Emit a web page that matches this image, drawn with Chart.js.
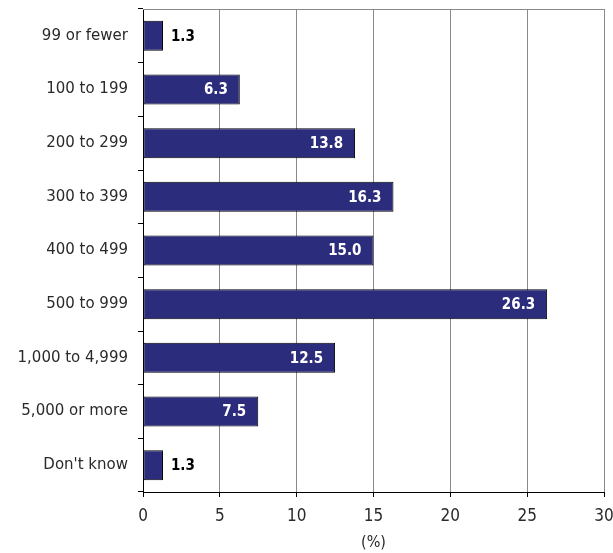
<!DOCTYPE html>
<html>
<head>
<meta charset="utf-8">
<script src="https://cdn.jsdelivr.net/npm/chart.js@4"></script>
<style>
  html, body { margin: 0; padding: 0; background: #fff; }
  #wrap { width: 613px; height: 553px; }
</style>
</head>
<body>
<div id="wrap"><canvas id="c" width="613" height="553"></canvas></div>
<script>
// Number of employees (size bands) and share of respondents, in percent
const categories = ['99 or fewer', '100 to 199', '200 to 299', '300 to 399', '400 to 499',
                    '500 to 999', '1,000 to 4,999', '5,000 or more', "Don't know"];
const shares = [1.3, 6.3, 13.8, 16.3, 15.0, 26.3, 12.5, 7.5, 1.3];
const xTicks = [0, 5, 10, 15, 20, 25, 30];
const xTitle = '(%)';

const TEXT = '#2a2a2a';

// Value labels: white inside long bars, black just past short ones
const valueLabels = {
  id: 'valueLabels',
  afterDatasetsDraw(chart) {
    const ctx = chart.ctx;
    const meta = chart.getDatasetMeta(0);
    ctx.save();
    ctx.font = 'bold 15px "DejaVu Sans Condensed", "Liberation Sans", Arial, sans-serif';
    ctx.textBaseline = 'middle';
    meta.data.forEach((bar, i) => {
      const v = shares[i];
      const txt = v.toFixed(1);
      if (v >= 5) {
        ctx.fillStyle = '#ffffff';
        ctx.textAlign = 'right';
        ctx.fillText(txt, bar.x - 12, bar.y + 1);
      } else {
        ctx.fillStyle = '#000000';
        ctx.textAlign = 'left';
        ctx.fillText(txt, bar.x + 8, bar.y + 1);
      }
    });
    ctx.restore();
  }
};

// Grey frame line along the top of the plot area
const topFrame = {
  id: 'topFrame',
  beforeDatasetsDraw(chart) {
    const { ctx, chartArea } = chart;
    ctx.save();
    ctx.strokeStyle = '#8a8a8a';
    ctx.lineWidth = 1;
    ctx.beginPath();
    ctx.moveTo(chartArea.left, chartArea.top + 0.5);
    ctx.lineTo(chartArea.right, chartArea.top + 0.5);
    ctx.stroke();
    ctx.restore();
  }
};

// Fixed axis boxes, no automatic label overflow padding
function fixBox(size) {
  return (scale) => {
    if (scale.isHorizontal()) scale.height = size; else scale.width = size;
    scale.paddingTop = 0;
    scale.paddingBottom = 0;
    scale.paddingLeft = 0;
    scale.paddingRight = 0;
  };
}

new Chart(document.getElementById('c'), {
  type: 'bar',
  data: {
    labels: categories,
    datasets: [{
      data: shares,
      backgroundColor: '#2c2c7c',
      borderColor: '#000000',
      borderWidth: 1,
      borderSkipped: false,
      barPercentage: 0.56,
      categoryPercentage: 1.0
    }]
  },
  options: {
    indexAxis: 'y',
    responsive: false,
    animation: false,
    layout: { padding: { top: 9, right: 9, left: 0, bottom: 0 } },
    plugins: {
      legend: { display: false },
      tooltip: { enabled: false }
    },
    scales: {
      x: {
        min: 0,
        max: 30,
        afterBuildTicks(scale) { scale.ticks = xTicks.map(v => ({ value: v })); },
        afterFit: fixBox(61),
        grid: {
          color: (c) => (c.tick && c.tick.value === 0) ? 'rgba(0,0,0,0)' : '#8a8a8a',
          tickColor: '#000000',
          tickLength: 5,
          lineWidth: 1
        },
        border: { color: '#000000', width: 1 },
        ticks: {
          color: TEXT,
          padding: 9,
          font: { family: '"Liberation Sans Narrow", "DejaVu Sans Condensed", Arial, sans-serif', size: 17 }
        },
        title: {
          display: true,
          text: xTitle,
          color: TEXT,
          padding: { top: 0, bottom: 1 },
          font: { family: '"Liberation Sans Narrow", "DejaVu Sans Condensed", Arial, sans-serif', size: 16 }
        }
      },
      y: {
        afterFit: fixBox(143),
        grid: {
          offset: true,
          drawOnChartArea: false,
          color: '#000000',
          tickLength: 5
        },
        border: { color: '#000000', width: 1 },
        ticks: {
          color: TEXT,
          padding: 10,
          font: { family: '"DejaVu Sans", sans-serif', size: 15 }
        }
      }
    }
  },
  plugins: [topFrame, valueLabels]
});
</script>
</body>
</html>
